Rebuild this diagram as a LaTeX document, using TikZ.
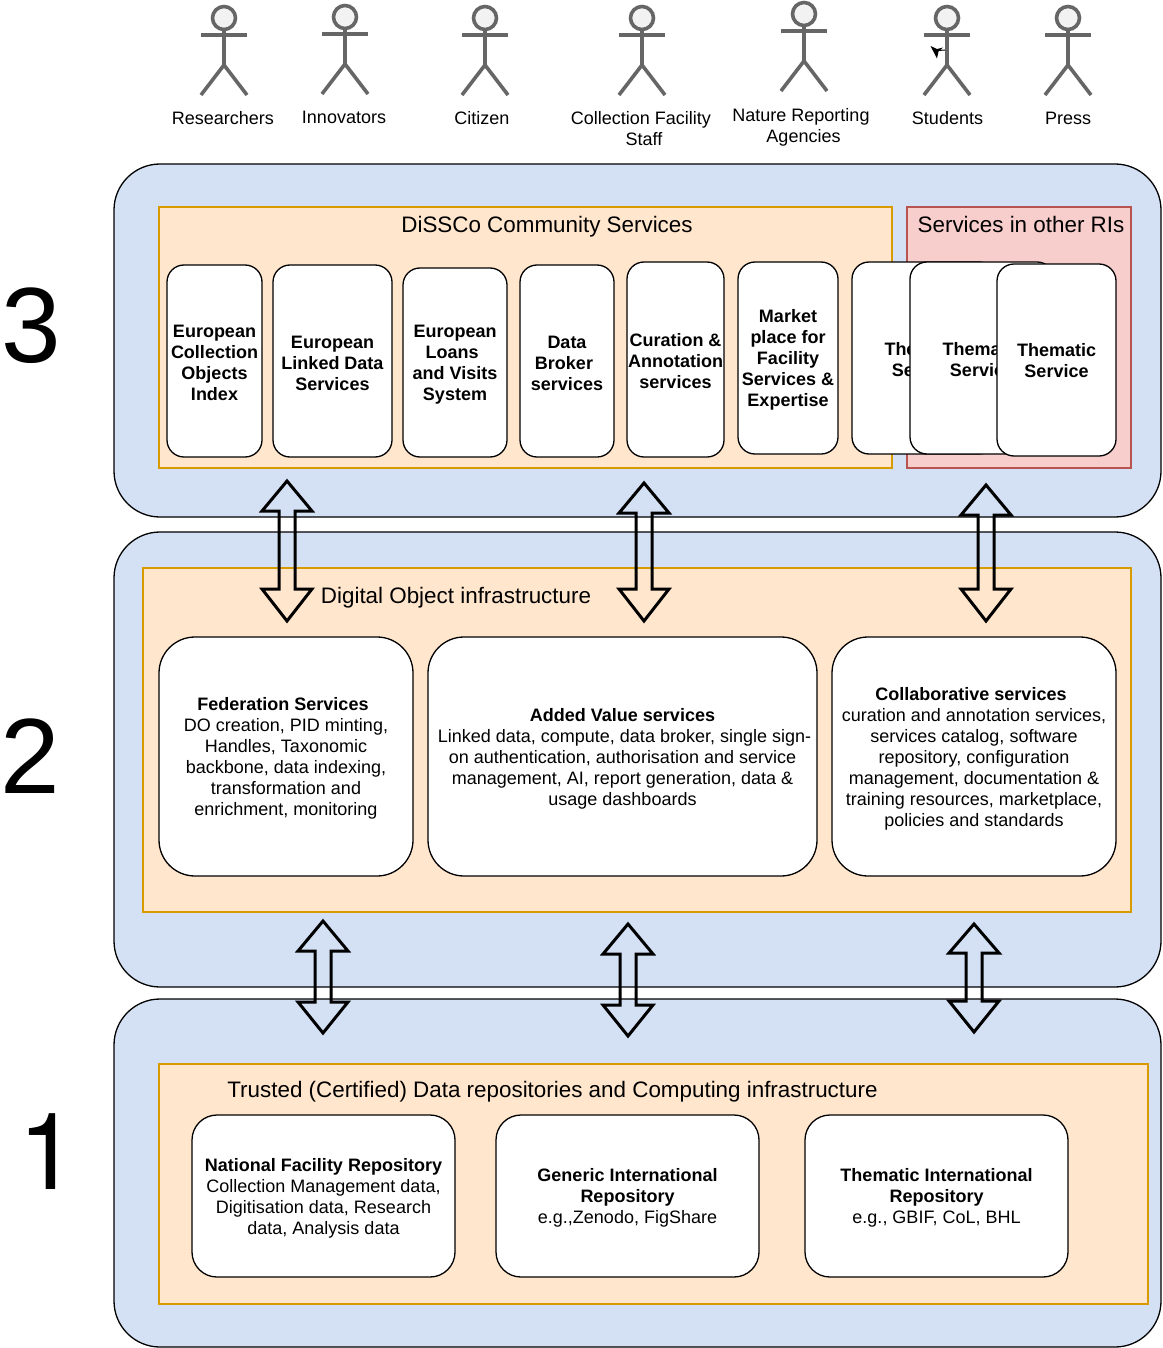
\documentclass[tikz,border=0pt]{standalone}
\usepackage{fontspec}
\setmainfont{Liberation Sans}
\newfontfamily\digitfont{TeX Gyre Heros}
\usetikzlibrary{calc}
\definecolor{layerblue}{HTML}{D4E1F5}
\definecolor{orangefill}{HTML}{FFE6CC}
\definecolor{orangeline}{HTML}{D79B00}
\definecolor{pinkfill}{HTML}{F8CECC}
\definecolor{pinkline}{HTML}{B85450}
\definecolor{stickgray}{HTML}{666666}
\tikzset{
  layerbox/.style={draw=black,line width=1.3pt,fill=layerblue,rounded corners=46pt,inner sep=0pt,outer sep=0pt},
  panelbox/.style={draw=orangeline,line width=1.3pt,fill=orangefill,inner sep=0pt,outer sep=0pt},
  pinkbox/.style={draw=pinkline,line width=1.3pt,fill=pinkfill,inner sep=0pt,outer sep=0pt},
  servicebox/.style={draw=black,line width=1.3pt,fill=white,rounded corners=17pt,inner sep=0pt,outer sep=0pt},
  bigbox/.style={draw=black,line width=1.3pt,fill=white,rounded corners=36pt,inner sep=0pt,outer sep=0pt},
  lowbox/.style={draw=black,line width=1.3pt,fill=white,rounded corners=25pt,inner sep=0pt,outer sep=0pt},
  boldtext/.style={inner sep=0pt,align=center,font=\fontsize{18}{21}\selectfont\bfseries},
  plaintext/.style={inner sep=0pt,align=center,font=\fontsize{18}{21}\selectfont},
  titlelabel/.style={inner sep=0pt,align=center,font=\fontsize{22.4}{26}\selectfont},
  actorlabel/.style={inner sep=0pt,align=center,font=\fontsize{18}{21}\selectfont},
  levellabel/.style={inner sep=0pt,font=\fontsize{107}{120}\selectfont},
  blockarrow/.style={draw=black,line width=3pt,line join=miter,miter limit=3},
  stickhead/.style={circle,draw=stickgray,line width=3.6pt,fill=white!95!black,minimum size=23pt,inner sep=0pt,outer sep=0pt},
  stickline/.style={draw=stickgray,line width=3.6pt}
}
\newcommand{\xbox}[6]{% style, name, x1, y1, x2, y2
  \pgfmathsetmacro{\xw}{#5-#3}\pgfmathsetmacro{\xh}{#6-#4}
  \node[#1,minimum width=\xw pt,minimum height=\xh pt] (#2) at ({(#3+#5)/2},{(#4+#6)/2}) {};}
\newcommand{\xtext}[3]{% style, box name, text
  \node[#1] (#2text) at ($(#2.center)+(0,2)$) {#3};}
\newcommand{\xpad}{\rule{6pt}{0pt}}
\newcommand{\xactor}[3]{% name, x, y of head centre
  \node[stickhead] (#1) at (#2,#3) {};
  \coordinate (#1hip) at (#2,#3+47);
  \draw[stickline] (#1.south) -- (#1hip);
  \draw[stickline] (#2-23,#3+17) -- (#2+23,#3+17);
  \draw[stickline] (#2-23,#3+77) -- (#1hip) -- (#2+23,#3+77);}
\newcommand{\xarrow}[6]{% name, x, top, upper base, lower base, bottom
  \coordinate (#1top) at (#2,#3);
  \coordinate (#1bot) at (#2,#6);
  \draw[blockarrow] (#1top) -- (#2+25,#4) -- (#2+8,#4) -- (#2+8,#5) -- (#2+25,#5) -- (#1bot)
    -- (#2-25,#5) -- (#2-8,#5) -- (#2-8,#4) -- (#2-25,#4) -- cycle;}
\begin{document}
\begin{tikzpicture}[x=1pt,y=-1pt]
\useasboundingbox (0,0) rectangle (1162,1348);

% actors
\xactor{researchers}{224}{18}
\xactor{innovators}{345}{17}
\xactor{citizen}{485}{18}
\xactor{staff}{642}{18}
\xactor{agencies}{804}{14}
\xactor{students}{947}{18}
\xactor{press}{1068}{18}
\node[actorlabel] (lresearchers) at (222.8,118) {Researchers};
\node[actorlabel] (linnovators) at (344,117) {Innovators};
\node[actorlabel] (lcitizen) at (482,118) {Citizen};
\node[actorlabel] (lstaff) at (641,129) {Collection Facility\\\hspace*{6pt}Staff};
\node[actorlabel] (lagencies) at (801,127) {Nature Reporting\\\hspace*{5pt}Agencies};
\node[actorlabel] (lstudents) at (947.5,118) {Students};
\node[actorlabel] (lpress) at (1068,118) {Press};
% stray arrow at Students
\coordinate (straytail) at (945,50);
\coordinate (straytip) at (938,50.5);
\draw[black,line width=1pt] (straytail) -- (straytip);
\fill[black] (930.5,46) -- (937,49) -- (943,47.5) -- (938.5,51.5) -- (937,58.5) -- cycle;

% layers
\xbox{layerbox}{layerthree}{114}{164}{1161}{517}
\xbox{layerbox}{layertwo}{114}{532}{1161}{987}
\xbox{layerbox}{layerone}{114}{999}{1161}{1347}

% level numbers
\node[levellabel] (numthree) at (31,326) {3};
\node[levellabel] (numtwo) at (30,756) {2};
\node[levellabel] (numone) at (48,1152) {\digitfont 1};

% panels
\xbox{panelbox}{community}{159}{207}{892}{468}
\xbox{pinkbox}{otherris}{907}{207}{1131}{468}
\xbox{panelbox}{doinfra}{143}{568}{1131}{912}
\xbox{panelbox}{trusted}{159}{1064}{1148}{1304}
\node[titlelabel] (tcommunity) at (547,226.5) {DiSSCo Community Services};
\node[titlelabel] (tother) at (1021,224) {Services in other RIs};
\node[titlelabel] (tdo) at (456,597.5) {Digital Object infrastructure};
\node[titlelabel] (ttrusted) at (552.5,1091.5) {Trusted (Certified) Data repositories and Computing infrastructure};

% service boxes
\xbox{servicebox}{sindex}{167}{265}{262}{457}
\xtext{boldtext}{sindex}{European\\Collection\\Objects\\Index}
\xbox{servicebox}{slinked}{273}{265}{392}{457}
\xtext{boldtext}{slinked}{European\\Linked Data\\Services}
\xbox{servicebox}{sloans}{403}{268}{507}{457}
\xtext{boldtext}{sloans}{European\\Loans\xpad\\and Visits\\System}
\xbox{servicebox}{sbroker}{520}{265}{614}{457}
\xtext{boldtext}{sbroker}{Data\\Broker\xpad\\services}
\xbox{servicebox}{scuration}{627}{262}{724}{457}
\xtext{boldtext}{scuration}{Curation \&\\Annotation\\services}
\xbox{servicebox}{smarket}{738}{262}{838}{454}
\xtext{boldtext}{smarket}{Market\\place for\\Facility\\Services \&\\Expertise}
\xbox{servicebox}{sthemone}{852}{262}{996}{454}
\xtext{boldtext}{sthemone}{Thematic\\Service}
\xbox{servicebox}{sthemtwo}{910}{262}{1054}{454}
\xtext{boldtext}{sthemtwo}{Thematic\\Service}
\xbox{servicebox}{sthemthree}{997}{264}{1116}{456}
\node[boldtext] (sthemthreetext) at ($(sthemthree.center)+(0,1)$) {Thematic\\Service};

% DO infrastructure boxes
\xbox{bigbox}{federation}{159}{637}{413}{876}
\xtext{plaintext}{federation}{\textbf{Federation Services}\hspace*{6pt}\\DO creation, PID minting,\\Handles, Taxonomic\\backbone, data indexing,\\transformation and\\enrichment, monitoring}
\xbox{bigbox}{addedvalue}{428}{637}{817}{876}
\xtext{plaintext}{addedvalue}{\textbf{Added Value services}\\\hspace*{4pt}Linked data, compute, data broker, single sign-\\on authentication, authorisation and service\\management, AI, report generation, data \&\\usage dashboards}
\xbox{bigbox}{collab}{832}{637}{1116}{876}
\xtext{plaintext}{collab}{\textbf{Collaborative services}\hspace*{6pt}\\curation and annotation services,\\services catalog, software\\repository, configuration\\management, documentation \&\\training resources, marketplace,\\policies and standards}

% repository boxes
\xbox{lowbox}{national}{192}{1115}{455}{1277}
\xtext{plaintext}{national}{\textbf{National Facility Repository}\\Collection Management data,\\Digitisation data, Research\\data, Analysis data}
\xbox{lowbox}{generic}{496}{1115}{759}{1277}
\xtext{plaintext}{generic}{\textbf{Generic International}\\\textbf{Repository}\\e.g.,Zenodo, FigShare}
\xbox{lowbox}{thematic}{805}{1115}{1068}{1277}
\xtext{plaintext}{thematic}{\textbf{Thematic International}\\\textbf{Repository}\\e.g., GBIF, CoL, BHL}

% block arrows
\xarrow{aone}{287}{481}{511}{589}{621}
\xarrow{atwo}{644}{483}{513}{589}{621}
\xarrow{athree}{986}{485}{515}{589}{621}
\xarrow{bone}{323}{921}{951}{1002}{1033}
\xarrow{btwo}{628}{924}{954}{1005}{1036}
\xarrow{bthree}{974}{924}{953}{1001}{1032}
\end{tikzpicture}
\end{document}
